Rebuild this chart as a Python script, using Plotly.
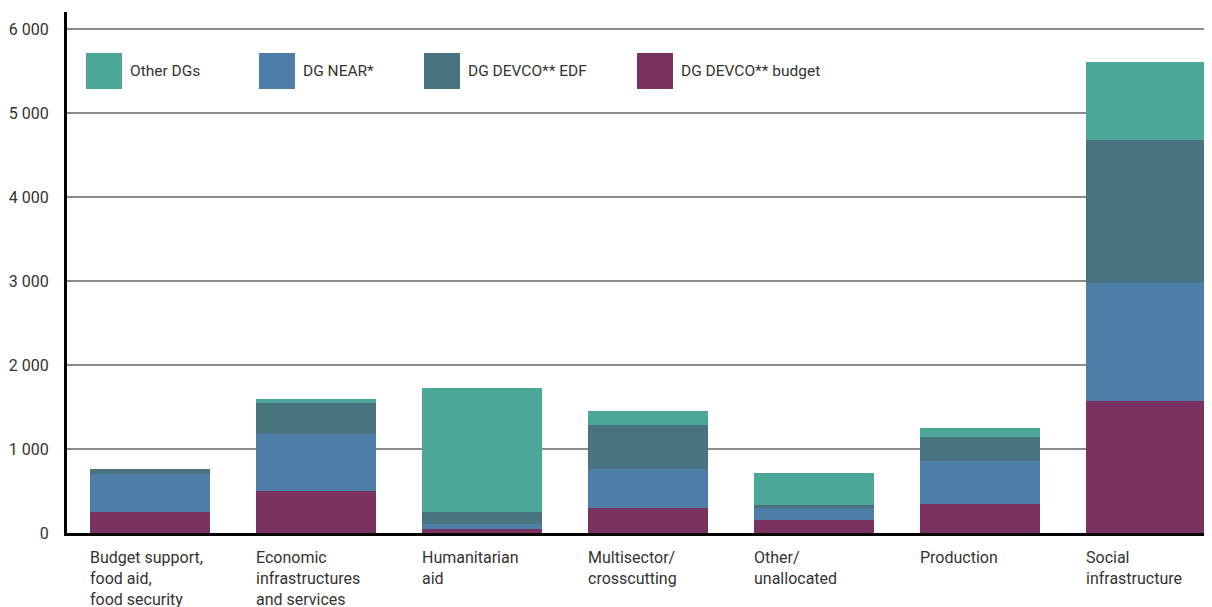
import plotly.graph_objects as go

categories = ["Budget support,<br>food aid,<br>food security",
              "Economic<br>infrastructures<br>and services",
              "Humanitarian<br>aid",
              "Multisector/<br>crosscutting",
              "Other/<br>unallocated",
              "Production",
              "Social<br>infrastructure"]
devco_budget = [254, 504, 52, 301, 159, 349, 1575]
dg_near = [452, 678, 59, 465, 142, 512, 1408]
devco_edf = [59, 370, 143, 524, 36, 285, 1699]
other_dgs = [0, 47, 1476, 166, 381, 108, 929]

colors = {"DG DEVCO** budget": "#7A3360", "DG NEAR*": "#4C7EA7",
          "DG DEVCO** EDF": "#4A7380", "Other DGs": "#4BA899"}
values = {"DG DEVCO** budget": devco_budget, "DG NEAR*": dg_near,
          "DG DEVCO** EDF": devco_edf, "Other DGs": other_dgs}
stack_order = ["DG DEVCO** budget", "DG NEAR*", "DG DEVCO** EDF", "Other DGs"]
legend_order = ["Other DGs", "DG NEAR*", "DG DEVCO** EDF", "DG DEVCO** budget"]

# page has an 8px body margin; compensate so the plot lands where the reference has it
OFF = 8
PAGE_W, PAGE_H = 1212, 607
W, H = PAGE_W - OFF, PAGE_H - OFF
L, R, T, B = 67 - OFF, 0, 12 - OFF, PAGE_H - 533
bargap = 0.277
cat_px = 166.0
idx = list(range(len(categories)))

fig = go.Figure()
for name in stack_order:
    fig.add_trace(go.Bar(x=idx, y=values[name], name=name,
                         marker=dict(color=colors[name], line=dict(width=0)),
                         showlegend=False))

FONT = "Roboto"
TXT = "#333333"

annotations = []
for i, c in enumerate(categories):
    annotations.append(dict(x=i - (1 - bargap) / 2, y=0, xref="x", yref="paper",
                            xanchor="left", yanchor="top", align="left",
                            text=c, showarrow=False, yshift=-13, xshift=-2,
                            font=dict(family=FONT, size=16, color=TXT)))

def px2x(p):
    return (p - OFF - L) / (W - L - R)

def py2y(p):
    return 1 - (p - OFF - T) / (H - T - B)

legend_x = [86, 259, 424, 637]
shapes = []
for name, lx in zip(legend_order, legend_x):
    shapes.append(dict(type="rect", xref="paper", yref="paper",
                       x0=px2x(lx), x1=px2x(lx + 36), y0=py2y(89), y1=py2y(53),
                       fillcolor=colors[name], line=dict(width=0), layer="above"))
    annotations.append(dict(x=px2x(lx + 42), y=py2y(71), xref="paper", yref="paper",
                            xanchor="left", yanchor="middle", text=name, showarrow=False,
                            font=dict(family=FONT, size=15.5, color=TXT)))

fig.update_layout(
    width=W, height=H,
    margin=dict(l=L, r=R, t=T, b=B, pad=0),
    barmode="stack", bargap=bargap,
    plot_bgcolor="white", paper_bgcolor="white",
    separators=". ",
    showlegend=False,
    annotations=annotations, shapes=shapes,
    xaxis=dict(range=[-0.5, -0.5 + (W - L - R) / cat_px], showticklabels=False,
               showgrid=False, zeroline=False, showline=True, linecolor="black",
               linewidth=3, ticks=""),
    yaxis=dict(range=[0, 6206], tickvals=[0, 1000, 2000, 3000, 4000, 5000, 6000],
               tickformat=",d", showgrid=True, gridcolor="#8a8a8a", gridwidth=2,
               zeroline=False, showline=True, linecolor="black", linewidth=3,
               ticks="", ticklabelstandoff=12,
               tickfont=dict(family=FONT, size=16, color=TXT)),
)

fig.write_html("out.html")
